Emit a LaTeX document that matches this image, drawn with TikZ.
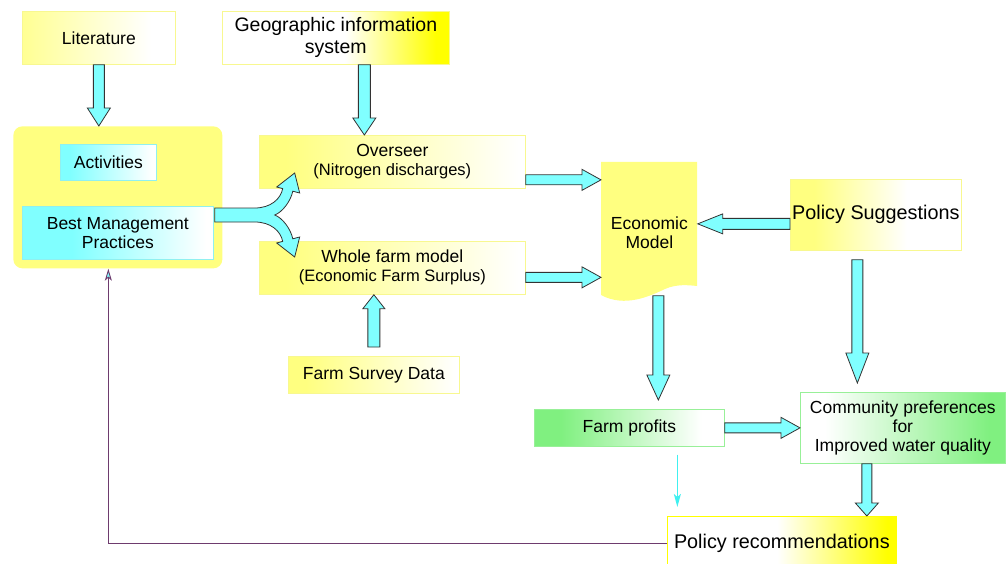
\documentclass[tikz,border=0pt]{standalone}
\usepackage{fontspec}
\setmainfont{Liberation Sans}
\usetikzlibrary{calc,arrows.meta}
\definecolor{ylw}{HTML}{FFFF80}
\definecolor{ylwB}{HTML}{FFFF00}
\definecolor{cyn}{HTML}{80FFFF}
\definecolor{grn}{HTML}{80F080}
\definecolor{ylwbd}{HTML}{F8F890}
\definecolor{cynbd}{HTML}{90F0F0}
\definecolor{grnbd}{HTML}{98F098}
\definecolor{purp}{HTML}{6E3B6E}
\definecolor{thincy}{HTML}{40F0F0}
\pgfdeclarehorizontalshading{shLit}{100bp}{color(0bp)=(ylw!85!white); color(25bp)=(ylw!85!white); color(67bp)=(white); color(100bp)=(white)}
\pgfdeclarehorizontalshading{shOvs}{100bp}{color(0bp)=(ylw); color(30bp)=(ylw); color(74bp)=(white); color(100bp)=(white)}
\pgfdeclarehorizontalshading{shGis}{100bp}{color(0bp)=(white); color(52bp)=(white); color(72bp)=(ylwB); color(100bp)=(ylwB)}
\pgfdeclarehorizontalshading{shPs}{100bp}{color(0bp)=(ylw); color(32bp)=(ylw); color(59bp)=(white); color(100bp)=(white)}
\pgfdeclarehorizontalshading{shPr}{100bp}{color(0bp)=(white); color(49bp)=(white); color(73bp)=(ylwB); color(100bp)=(ylwB)}
\pgfdeclarehorizontalshading{shCm}{100bp}{color(0bp)=(white); color(31bp)=(white); color(71bp)=(grn); color(100bp)=(grn)}
\pgfdeclarehorizontalshading{shFp}{100bp}{color(0bp)=(grn); color(32bp)=(grn); color(69bp)=(white); color(100bp)=(white)}
\pgfdeclarehorizontalshading{shAct}{100bp}{color(0bp)=(cyn); color(30bp)=(cyn); color(73bp)=(white); color(100bp)=(white)}
\pgfdeclarehorizontalshading{shBmp}{100bp}{color(0bp)=(cyn); color(38bp)=(cyn); color(73bp)=(white); color(100bp)=(white)}
\newcommand\fsmain{\fontsize{17.5}{19}\selectfont}
\newcommand\fssub{\fontsize{16.5}{18}\selectfont}
\newcommand\fsgis{\fontsize{19.5}{22}\selectfont}
\newcommand\fsbig{\fontsize{19.8}{21}\selectfont}
\newcommand\blockarrow[5]{%
 \coordinate (bA) at (#1);
 \coordinate (bB) at (#2);
 \coordinate (bH) at ($(bB)!#5pt!(bA)$);
 \draw[barr] ($(bA)!#3pt!90:(bB)$) -- ($(bH)!#3pt!90:(bB)$) -- ($(bH)!#4pt!90:(bB)$) -- (bB) -- ($(bH)!#4pt!-90:(bB)$) -- ($(bH)!#3pt!-90:(bB)$) -- ($(bA)!#3pt!-90:(bB)$) -- cycle;}
\begin{document}
\begin{tikzpicture}[x=1pt,y=-1pt,
  box/.style={rectangle, anchor=north west, inner sep=0pt, align=center, font=\fsmain, line width=0.7pt},
  barr/.style={fill=cyn, draw=black!80, line width=0.8pt, line join=miter},
  fbarrow/.style={draw=purp, line width=0.9pt, -{Stealth[length=12pt, width=7pt, inset=3pt, fill=cyn]}},
  thinarrow/.style={draw=thincy, line width=1.4pt, -{Stealth[length=13pt, width=7pt, inset=3pt]}}]
\useasboundingbox (0,0) rectangle (1006,564);
\fill[white] (0,0) rectangle (1006,564);
% nodes
\node[box, draw=ylwbd, shade, shading=shLit, minimum width=153pt, minimum height=53pt] (lit) at (22,11) {Literature};
\node[box, draw=ylwbd, shade, shading=shGis, minimum width=227pt, minimum height=53pt, font=\fsgis] (gis) at (222,11) {\raisebox{-2pt}{Geographic information}\\\raisebox{-2pt}{system}};
\node[box, fill=ylw, rounded corners=9pt, minimum width=209pt, minimum height=142pt] (grp) at (13,126) {};
\node[box, draw=cynbd, shade, shading=shAct, minimum width=96pt, minimum height=36pt] (act) at (60,144) {Activities};
\node[box, draw=cynbd, shade, shading=shBmp, minimum width=191pt, minimum height=53pt] (bmp) at (22,206) {Best Management\\Practices};
\node[box, draw=ylwbd, shade, shading=shOvs, minimum width=266pt, minimum height=53pt] (ovs) at (259,135) {Overseer\\{\fssub (Nitrogen discharges)}};
\node[box, draw=ylwbd, shade, shading=shOvs, minimum width=266pt, minimum height=53pt] (wfm) at (259,241) {Whole farm model\\{\fssub (Economic Farm Surplus)}};
\node[box, draw=ylwbd, shade, shading=shOvs, minimum width=171pt, minimum height=37pt] (fsd) at (288,356) {Farm Survey Data};
\node[box, minimum width=96pt, minimum height=133pt] (econ) at (601,162) {};
\fill[ylw] (601,162) -- (697,162) -- (697,286) .. controls (688,285) and (676,284) .. (665,289) .. controls (650,296) and (625,308) .. (601,295) -- cycle;
\node[align=center, font=\fsmain, inner sep=0pt] (econT) at ($(econ.center)+(0,4)$) {Economic\\Model};
\node[box, draw=ylwbd, shade, shading=shPs, minimum width=171pt, minimum height=71pt, font=\fsbig] (ps) at (790,179) {Policy Suggestions};
\node[box, draw=grnbd, shade, shading=shFp, minimum width=190pt, minimum height=37pt] (fp) at (534,409) {Farm profits};
\node[box, draw=grnbd, shade, shading=shCm, minimum width=205pt, minimum height=71pt] (cm) at (800,392) {Community preferences\\for\\Improved water quality};
\node[box, draw=ylwB, shade, shading=shPr, minimum width=229pt, minimum height=54pt, font=\fsbig] (pr) at (667,516) {Policy recommendations};
% block arrows
\blockarrow{lit.south}{lit.south |- grp.north}{5.5}{11.5}{18}
\coordinate (g1) at ($(gis.south)+(28.5,0)$);
\blockarrow{g1}{g1 |- ovs.north}{6}{11.5}{17}
\coordinate (f1) at ($(fsd.north)+(0,-9)$);
\blockarrow{f1}{f1 |- wfm.south}{6}{11}{14}
\coordinate (o1) at ($(ovs.east)+(0,18)$);
\blockarrow{o1}{o1 -| econ.west}{5}{10.5}{19}
\coordinate (w1) at ($(wfm.east)+(0,9.5)$);
\blockarrow{w1}{w1 -| econ.west}{5}{10.5}{19}
\coordinate (p1) at ($(ps.west)+(0,9)$);
\blockarrow{p1}{p1 -| econ.east}{5.5}{10}{25}
\coordinate (e1) at ($(econ.south)+(9,0)$);
\coordinate (e2) at ($(e1 |- fp.north)+(0,-9)$);
\blockarrow{e1}{e2}{5.5}{11.5}{25}
\coordinate (s1) at ($(ps.south)+(-18.5,9)$);
\coordinate (s2) at ($(s1 |- cm.north)+(0,-9)$);
\blockarrow{s1}{s2}{5.5}{11.5}{30}
\blockarrow{fp.east}{fp.east -| cm.west}{5}{10.5}{19}
\coordinate (c1) at ($(cm.south)+(-36,0)$);
\blockarrow{c1}{c1 |- pr.north}{5}{11.5}{13}
% fork arrow from BMP to Overseer and Whole farm model
\coordinate (fk) at ($(bmp.north east)+(1,9)$);
\draw[barr, shift={(fk)}] (0,-7) -- (40,-7) .. controls (56,-7) and (66,-16) .. (68,-26.4) -- (62,-28) -- (80,-42) -- (85,-22) -- (78.1,-23.8) .. controls (76,-14) and (68,-3) .. (60,0)
  .. controls (68,3) and (76,14) .. (78.1,23.8) -- (85,22) -- (80,42) -- (62,28) -- (68,26.4) .. controls (66,16) and (56,7) .. (40,7) -- (0,7) -- cycle;
% thin arrows
\coordinate (t1) at ($(fp.south)+(48,8)$);
\draw[thinarrow] (t1) -- ($(t1 |- pr.north)+(0,-9)$);
\coordinate (fb) at ($(grp.south)+(-9.5,0)$);
\draw[fbarrow] (pr.west) -| (fb);
\end{tikzpicture}
\end{document}
